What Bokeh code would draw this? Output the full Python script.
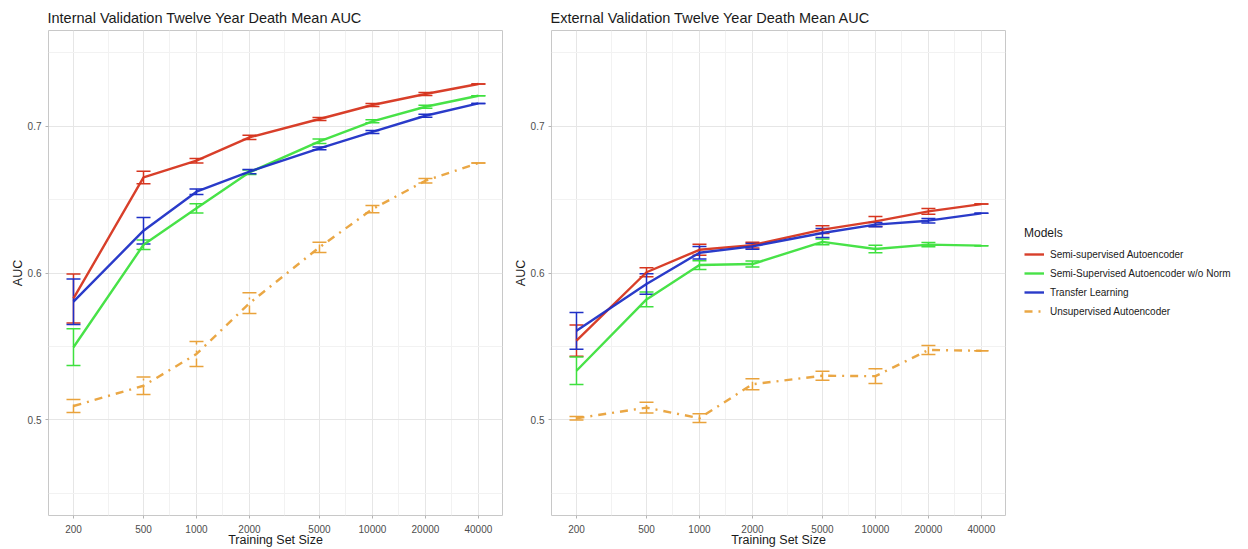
import math
from bokeh.plotting import figure
from bokeh.models import (ColumnDataSource, Whisker, TeeHead, FixedTicker, Range1d,
                          Legend, LegendItem, BasicTickFormatter)
from bokeh.layouts import row
from bokeh.embed import file_html
from bokeh.resources import INLINE

sizes = [200, 500, 1000, 2000, 5000, 10000, 20000, 40000]
models = ["Semi-supervised Autoencoder", "Semi-Supervised Autoencoder w/o Norm",
          "Transfer Learning", "Unsupervised Autoencoder"]
colors = ["#D6351F", "#3EE03E", "#1F30C6", "#E9A23B"]
dashes = ["solid", "solid", "solid", "8 6 2 6"]

# Internal validation: mean AUC and error half-width
int_semi = [0.5827, 0.6650, 0.6764, 0.6923, 0.7048, 0.7143, 0.7218, 0.7286]
int_semi_err = [0.0167, 0.0042, 0.0015, 0.0015, 0.0010, 0.0010, 0.0010, 0.0]
int_nonorm = [0.5495, 0.6192, 0.6440, 0.6685, 0.6896, 0.7032, 0.7131, 0.7206]
int_nonorm_err = [0.0125, 0.0032, 0.0031, 0.0015, 0.0015, 0.0010, 0.0010, 0.0]
int_transfer = [0.5805, 0.6288, 0.6553, 0.6690, 0.6848, 0.6960, 0.7070, 0.7154]
int_transfer_err = [0.0155, 0.0090, 0.0019, 0.0015, 0.0010, 0.0010, 0.0010, 0.0]
int_unsup = [0.5095, 0.5233, 0.5449, 0.5795, 0.6175, 0.6435, 0.6628, 0.6748]
int_unsup_err = [0.0045, 0.0060, 0.0085, 0.0070, 0.0035, 0.0025, 0.0015, 0.0]

# External validation
ext_semi = [0.5540, 0.6005, 0.6158, 0.6190, 0.6295, 0.6351, 0.6419, 0.6469]
ext_semi_err = [0.0107, 0.0030, 0.0037, 0.0020, 0.0027, 0.0034, 0.0020, 0.0]
ext_nonorm = [0.5335, 0.5820, 0.6054, 0.6061, 0.6212, 0.6163, 0.6193, 0.6186]
ext_nonorm_err = [0.0093, 0.0050, 0.0030, 0.0020, 0.0020, 0.0025, 0.0015, 0.0]
ext_transfer = [0.5607, 0.5925, 0.6138, 0.6181, 0.6272, 0.6329, 0.6356, 0.6406]
ext_transfer_err = [0.0125, 0.0070, 0.0043, 0.0020, 0.0030, 0.0015, 0.0015, 0.0]
ext_unsup = [0.5011, 0.5084, 0.5012, 0.5243, 0.5301, 0.5298, 0.5476, 0.5471]
ext_unsup_err = [0.0012, 0.0036, 0.0030, 0.0038, 0.0030, 0.0050, 0.0030, 0.0]

y_ticks = [0.5, 0.6, 0.7]
y_minor = [0.45, 0.55, 0.65, 0.75]

FONT = "Liberation Sans"


def make_panel(title, series, errs, left_border, with_legend):
    lo = math.log10(min(sizes)) - 0.142
    hi = math.log10(max(sizes)) + 0.137
    p = figure(x_axis_type="log", output_backend="svg", toolbar_location=None,
               frame_width=454, frame_height=485,
               x_range=Range1d(10 ** lo, 10 ** hi), y_range=Range1d(0.435, 0.765),
               min_border_left=left_border,
               min_border_right=230 if with_legend else 8,
               min_border_top=30, min_border_bottom=30,
               background_fill_color="white", border_fill_color="white")
    p.title.text = title
    p.title.text_font = FONT
    p.title.text_font_size = "14.5px"
    p.title.text_font_style = "normal"
    p.title.text_color = "#1a1a1a"
    p.title.offset = -1

    minor_x = [math.sqrt(a * b) for a, b in zip(sizes[:-1], sizes[1:])]
    p.xaxis.ticker = FixedTicker(ticks=sizes, minor_ticks=minor_x)
    p.xaxis.formatter = BasicTickFormatter(use_scientific=False)
    p.yaxis.ticker = FixedTicker(ticks=y_ticks, minor_ticks=y_minor)
    p.xaxis.axis_label = "Training Set Size"
    p.yaxis.axis_label = "AUC"
    for ax in (p.xaxis, p.yaxis):
        ax.axis_line_color = None
        ax.major_tick_line_color = "#b3b3b3"
        ax.major_tick_out = 3
        ax.major_tick_in = 0
        ax.minor_tick_line_color = None
        ax.major_label_text_font = FONT
        ax.major_label_text_font_size = "10px"
        ax.major_label_text_color = "#4d4d4d"
        ax.axis_label_text_font = FONT
        ax.axis_label_text_font_size = "12.5px"
        ax.axis_label_text_font_style = "normal"
        ax.axis_label_text_color = "#1a1a1a"
    p.xaxis.major_label_standoff = 5
    p.xaxis.axis_label_standoff = -3
    p.yaxis.major_label_standoff = 3
    p.yaxis.axis_label_standoff = 0
    p.outline_line_color = "#c8c8c8"
    p.outline_line_width = 1
    for g in (p.xgrid, p.ygrid):
        g.grid_line_color = "#e6e6e6"
        g.grid_line_width = 1
        g.minor_grid_line_color = "#f2f2f2"
        g.minor_grid_line_width = 1

    items = []
    for name, vals, err, c, d in zip(models, series, errs, colors, dashes):
        src = ColumnDataSource(dict(
            x=sizes, y=vals,
            upper=[v + e for v, e in zip(vals, err)],
            lower=[v - e for v, e in zip(vals, err)]))
        r = p.line("x", "y", source=src, line_color=c, line_width=2.4,
                   line_dash=d, line_alpha=0.95)
        w = Whisker(source=src, base="x", upper="upper", lower="lower",
                    line_color=c, line_width=1.5, line_dash=d,
                    upper_head=TeeHead(size=14, line_color=c, line_width=1.5),
                    lower_head=TeeHead(size=14, line_color=c, line_width=1.5))
        p.add_layout(w)
        items.append(LegendItem(label=name, renderers=[r]))

    if with_legend:
        leg = Legend(items=items, title="Models", location=(19, 196),
                     border_line_color=None, background_fill_alpha=0,
                     label_text_font=FONT, label_text_font_size="10px",
                     label_text_color="#1a1a1a",
                     title_text_font=FONT, title_text_font_size="12px",
                     title_text_font_style="normal", title_text_color="#1a1a1a",
                     glyph_width=20, glyph_height=16, label_height=16,
                     spacing=3, padding=0, margin=0, label_standoff=6,
                     title_standoff=6)
        p.add_layout(leg, "right")
    return p


left = make_panel("Internal Validation Twelve Year Death Mean AUC",
                  [int_semi, int_nonorm, int_transfer, int_unsup],
                  [int_semi_err, int_nonorm_err, int_transfer_err, int_unsup_err],
                  48, False)
right = make_panel("External Validation Twelve Year Death Mean AUC",
                   [ext_semi, ext_nonorm, ext_transfer, ext_unsup],
                   [ext_semi_err, ext_nonorm_err, ext_transfer_err, ext_unsup_err],
                   30, True)

layout = row(left, right)
open("out.html", "w").write(file_html(layout, INLINE))
